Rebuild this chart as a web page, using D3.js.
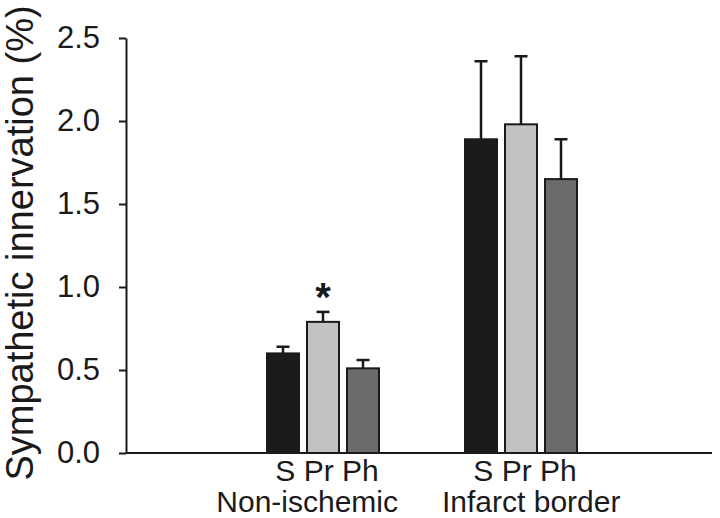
<!DOCTYPE html>
<html>
<head>
<meta charset="utf-8">
<script src="https://d3js.org/d3.v7.min.js"></script>
<style>
  html, body { margin: 0; padding: 0; background: #fff; }
  svg { display: block; font-family: "Liberation Sans", Arial, sans-serif; }
</style>
</head>
<body>
<svg id="chart" width="720" height="518"></svg>
<script>
// Data
const groups = ['Non-ischemic', 'Infarct border'];
const series = ['S', 'Pr', 'Ph'];
const means = [
    [0.60, 0.79, 0.51],
    [1.89, 1.98, 1.65]
];
const errors = [
    [0.04, 0.06, 0.05],
    [0.47, 0.41, 0.24]
];
const significant = [
    [false, true, false],
    [false, false, false]
];
const yTicks = [0, 0.5, 1.0, 1.5, 2.0, 2.5];

const colors = { S: '#1b1b1b', Pr: '#c2c2c2', Ph: '#6b6b6b' };

const svg = d3.select('#chart');
const axisX = 126, baseY = 453, topY = 38, rightX = 712;

const y = d3.scaleLinear().domain([0, 2.5]).range([baseY, topY]);

// Group centres and bars within a group
const gx = d3.scalePoint().domain(groups).range([323, 521]);
const bx = d3.scaleBand().domain(series).range([-60, 60]).paddingInner(0.2).paddingOuter(0.1);
const midGroups = (gx(groups[0]) + gx(groups[1])) / 2;

// Y axis
const yAxis = d3.axisLeft(y)
    .tickValues(yTicks)
    .tickFormat(d3.format('.1f'))
    .tickSizeInner(7)
    .tickSizeOuter(0)
    .tickPadding(19);

const ya = svg.append('g')
    .attr('transform', `translate(${axisX},0)`)
    .call(yAxis);
ya.select('.domain').attr('stroke', '#1a1a1a').attr('stroke-width', 2);
ya.selectAll('.tick line').attr('stroke', '#1a1a1a').attr('stroke-width', 2);
ya.selectAll('.tick text')
    .attr('font-size', 31)
    .attr('fill', '#1a1a1a')
    .attr('font-family', '"Liberation Sans", Arial, sans-serif');

// Baseline
svg.append('line')
    .attr('x1', axisX).attr('x2', rightX)
    .attr('y1', baseY).attr('y2', baseY)
    .attr('stroke', '#1a1a1a').attr('stroke-width', 2);

// Y label
svg.append('text')
    .attr('transform', `translate(33,243) rotate(-90)`)
    .attr('text-anchor', 'middle')
    .attr('font-size', 38)
    .attr('fill', '#1a1a1a')
    .text('Sympathetic innervation (%)');

// Bars, error bars
const flat = [];
groups.forEach((g, gi) => {
    series.forEach((s, si) => {
        flat.push({ group: g, key: s, value: means[gi][si], err: errors[gi][si], star: significant[gi][si] });
    });
});

const barG = svg.append('g');
const cx = d => gx(d.group) + bx(d.key) + bx.bandwidth() / 2;

barG.selectAll('line.err')
    .data(flat)
    .join('line')
    .attr('class', 'err')
    .attr('x1', cx)
    .attr('x2', cx)
    .attr('y1', d => y(d.value))
    .attr('y2', d => y(d.value + d.err))
    .attr('stroke', '#1a1a1a').attr('stroke-width', 2.5);

barG.selectAll('line.cap')
    .data(flat)
    .join('line')
    .attr('class', 'cap')
    .attr('x1', d => cx(d) - 6.5)
    .attr('x2', d => cx(d) + 6.5)
    .attr('y1', d => y(d.value + d.err))
    .attr('y2', d => y(d.value + d.err))
    .attr('stroke', '#1a1a1a').attr('stroke-width', 2.5);

barG.selectAll('rect')
    .data(flat)
    .join('rect')
    .attr('x', d => gx(d.group) + bx(d.key))
    .attr('y', d => y(d.value))
    .attr('width', bx.bandwidth())
    .attr('height', d => y(0) - y(d.value))
    .attr('fill', d => colors[d.key])
    .attr('stroke', '#1a1a1a')
    .attr('stroke-width', 2);

// Significance star
barG.selectAll('text.star')
    .data(flat.filter(d => d.star))
    .join('text')
    .attr('class', 'star')
    .attr('x', cx)
    .attr('y', d => y(d.value + d.err) - 1)
    .attr('text-anchor', 'middle')
    .attr('font-size', 40)
    .attr('font-weight', 'bold')
    .attr('fill', '#1a1a1a')
    .text('*');

// Series labels: one line of text under each group
svg.selectAll('text.series')
    .data(groups)
    .join('text')
    .attr('class', 'series')
    .attr('x', d => gx(d) + 4)
    .attr('y', baseY + 28)
    .attr('text-anchor', 'middle')
    .attr('font-size', 30)
    .attr('fill', '#1a1a1a')
    .text(series.join(' '));

// Group labels, set either side of the gap between the groups
svg.selectAll('text.group')
    .data(groups)
    .join('text')
    .attr('class', 'group')
    .attr('x', (d, i) => i === 0 ? midGroups - 24 : midGroups + 20)
    .attr('y', baseY + 59)
    .attr('text-anchor', (d, i) => i === 0 ? 'end' : 'start')
    .attr('font-size', 30)
    .attr('fill', '#1a1a1a')
    .text(d => d);
</script>
</body>
</html>
